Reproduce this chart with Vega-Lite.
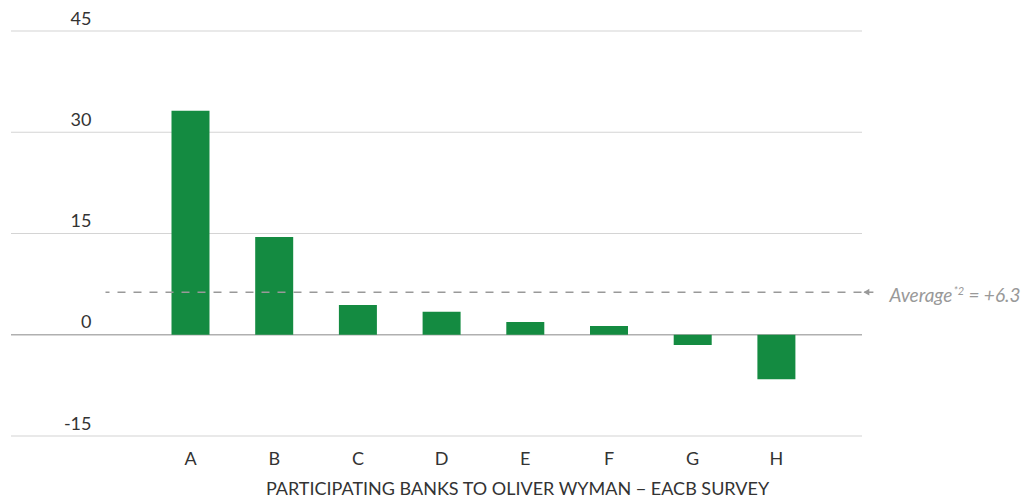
{
  "$schema": "https://vega.github.io/schema/vega-lite/v6.json",
  "width": 851,
  "height": 405,
  "autosize": {"type": "none"},
  "padding": {"left": 11, "top": 31, "right": 165, "bottom": 60},
  "background": "white",
  "config": {"font": "Lato", "view": {"stroke": null}},
  "datasets": {
    "banks": [
      {"bank": "A", "value": 33.2},
      {"bank": "B", "value": 14.5},
      {"bank": "C", "value": 4.4},
      {"bank": "D", "value": 3.4},
      {"bank": "E", "value": 1.9},
      {"bank": "F", "value": 1.3},
      {"bank": "G", "value": -1.5},
      {"bank": "H", "value": -6.6}
    ],
    "grid": [
      {"tick": -15}, {"tick": 0}, {"tick": 15}, {"tick": 30}, {"tick": 45}
    ],
    "avg": [{"name": "Average", "sup": "*2", "rest": "= +6.3", "value": 6.3}]
  },
  "layer": [
    {
      "data": {"name": "grid"},
      "mark": {"type": "rule"},
      "encoding": {
        "y": {"field": "tick", "type": "quantitative"},
        "color": {"condition": {"test": "datum.tick === 0", "value": "#b0b0b0"}, "value": "#d4d4d4"},
        "strokeWidth": {"condition": {"test": "datum.tick === 0", "value": 1.6}, "value": 1.2}
      }
    },
    {
      "data": {"name": "banks"},
      "mark": {"type": "bar", "color": "#148B41"},
      "encoding": {
        "x": {
          "field": "bank",
          "type": "nominal",
          "sort": null,
          "scale": {"paddingInner": 0.546, "paddingOuter": 0, "range": [160.5, 784.4]},
          "axis": {
            "title": "PARTICIPATING BANKS TO OLIVER WYMAN \u2212 EACB SURVEY",
            "labelAngle": 0,
            "domain": false,
            "ticks": false,
            "labelFontSize": 18,
            "labelColor": "#333333",
            "labelBaseline": "alphabetic",
            "labelPadding": 28,
            "titleFontSize": 18,
            "titleFontWeight": "normal",
            "titleColor": "#333333",
            "titleBaseline": "alphabetic",
            "titleX": 506,
            "titleY": 58,
            "titleAlign": "center",
            "titleAnchor": null
          }
        },
        "y": {
          "field": "value",
          "type": "quantitative",
          "scale": {"domain": [-15, 45], "nice": false},
          "axis": {
            "title": null,
            "values": [-15, 0, 15, 30, 45],
            "labelExpr": "'' + datum.value",
            "domain": false,
            "ticks": false,
            "grid": false,
            "labelAlign": "right",
            "labelBaseline": "alphabetic",
            "labelFlush": false,
            "labelPadding": -80,
            "labelOffset": -7,
            "labelFontSize": 18,
            "labelColor": "#333333",
            "labelBound": false
          }
        }
      }
    },
    {
      "data": {"name": "avg"},
      "mark": {"type": "rule", "strokeDash": [8, 8], "strokeDashOffset": 4, "color": "#999999", "strokeWidth": 1.5, "xOffset": -85, "x2Offset": 88},
      "encoding": {
        "x": {"datum": "A", "type": "nominal"},
        "x2": {"datum": "H"},
        "y": {"field": "value", "type": "quantitative"}
      }
    },
    {
      "data": {"name": "avg"},
      "mark": {"type": "rule", "color": "#999999", "strokeWidth": 1.5, "xOffset": 88, "x2Offset": 97},
      "encoding": {
        "x": {"datum": "H", "type": "nominal"},
        "x2": {"datum": "H"},
        "y": {"field": "value", "type": "quantitative"}
      }
    },
    {
      "data": {"name": "avg"},
      "mark": {"type": "point", "shape": "triangle-left", "filled": true, "color": "#999999", "opacity": 1, "size": 45, "xOffset": 90},
      "encoding": {
        "x": {"datum": "H", "type": "nominal"},
        "y": {"field": "value", "type": "quantitative"}
      }
    },
    {
      "data": {"name": "avg"},
      "mark": {"type": "text", "align": "left", "baseline": "alphabetic", "fontStyle": "italic", "fontSize": 19, "color": "#999999", "dx": 113, "dy": 10},
      "encoding": {
        "x": {"datum": "H", "type": "nominal"},
        "y": {"field": "value", "type": "quantitative"},
        "text": {"field": "name"}
      }
    },
    {
      "data": {"name": "avg"},
      "mark": {"type": "text", "align": "left", "baseline": "alphabetic", "fontStyle": "italic", "fontSize": 11, "color": "#999999", "dx": 177, "dy": 3},
      "encoding": {
        "x": {"datum": "H", "type": "nominal"},
        "y": {"field": "value", "type": "quantitative"},
        "text": {"field": "sup"}
      }
    },
    {
      "data": {"name": "avg"},
      "mark": {"type": "text", "align": "left", "baseline": "alphabetic", "fontStyle": "italic", "fontSize": 19, "color": "#999999", "dx": 192, "dy": 10},
      "encoding": {
        "x": {"datum": "H", "type": "nominal"},
        "y": {"field": "value", "type": "quantitative"},
        "text": {"field": "rest"}
      }
    }
  ]
}
